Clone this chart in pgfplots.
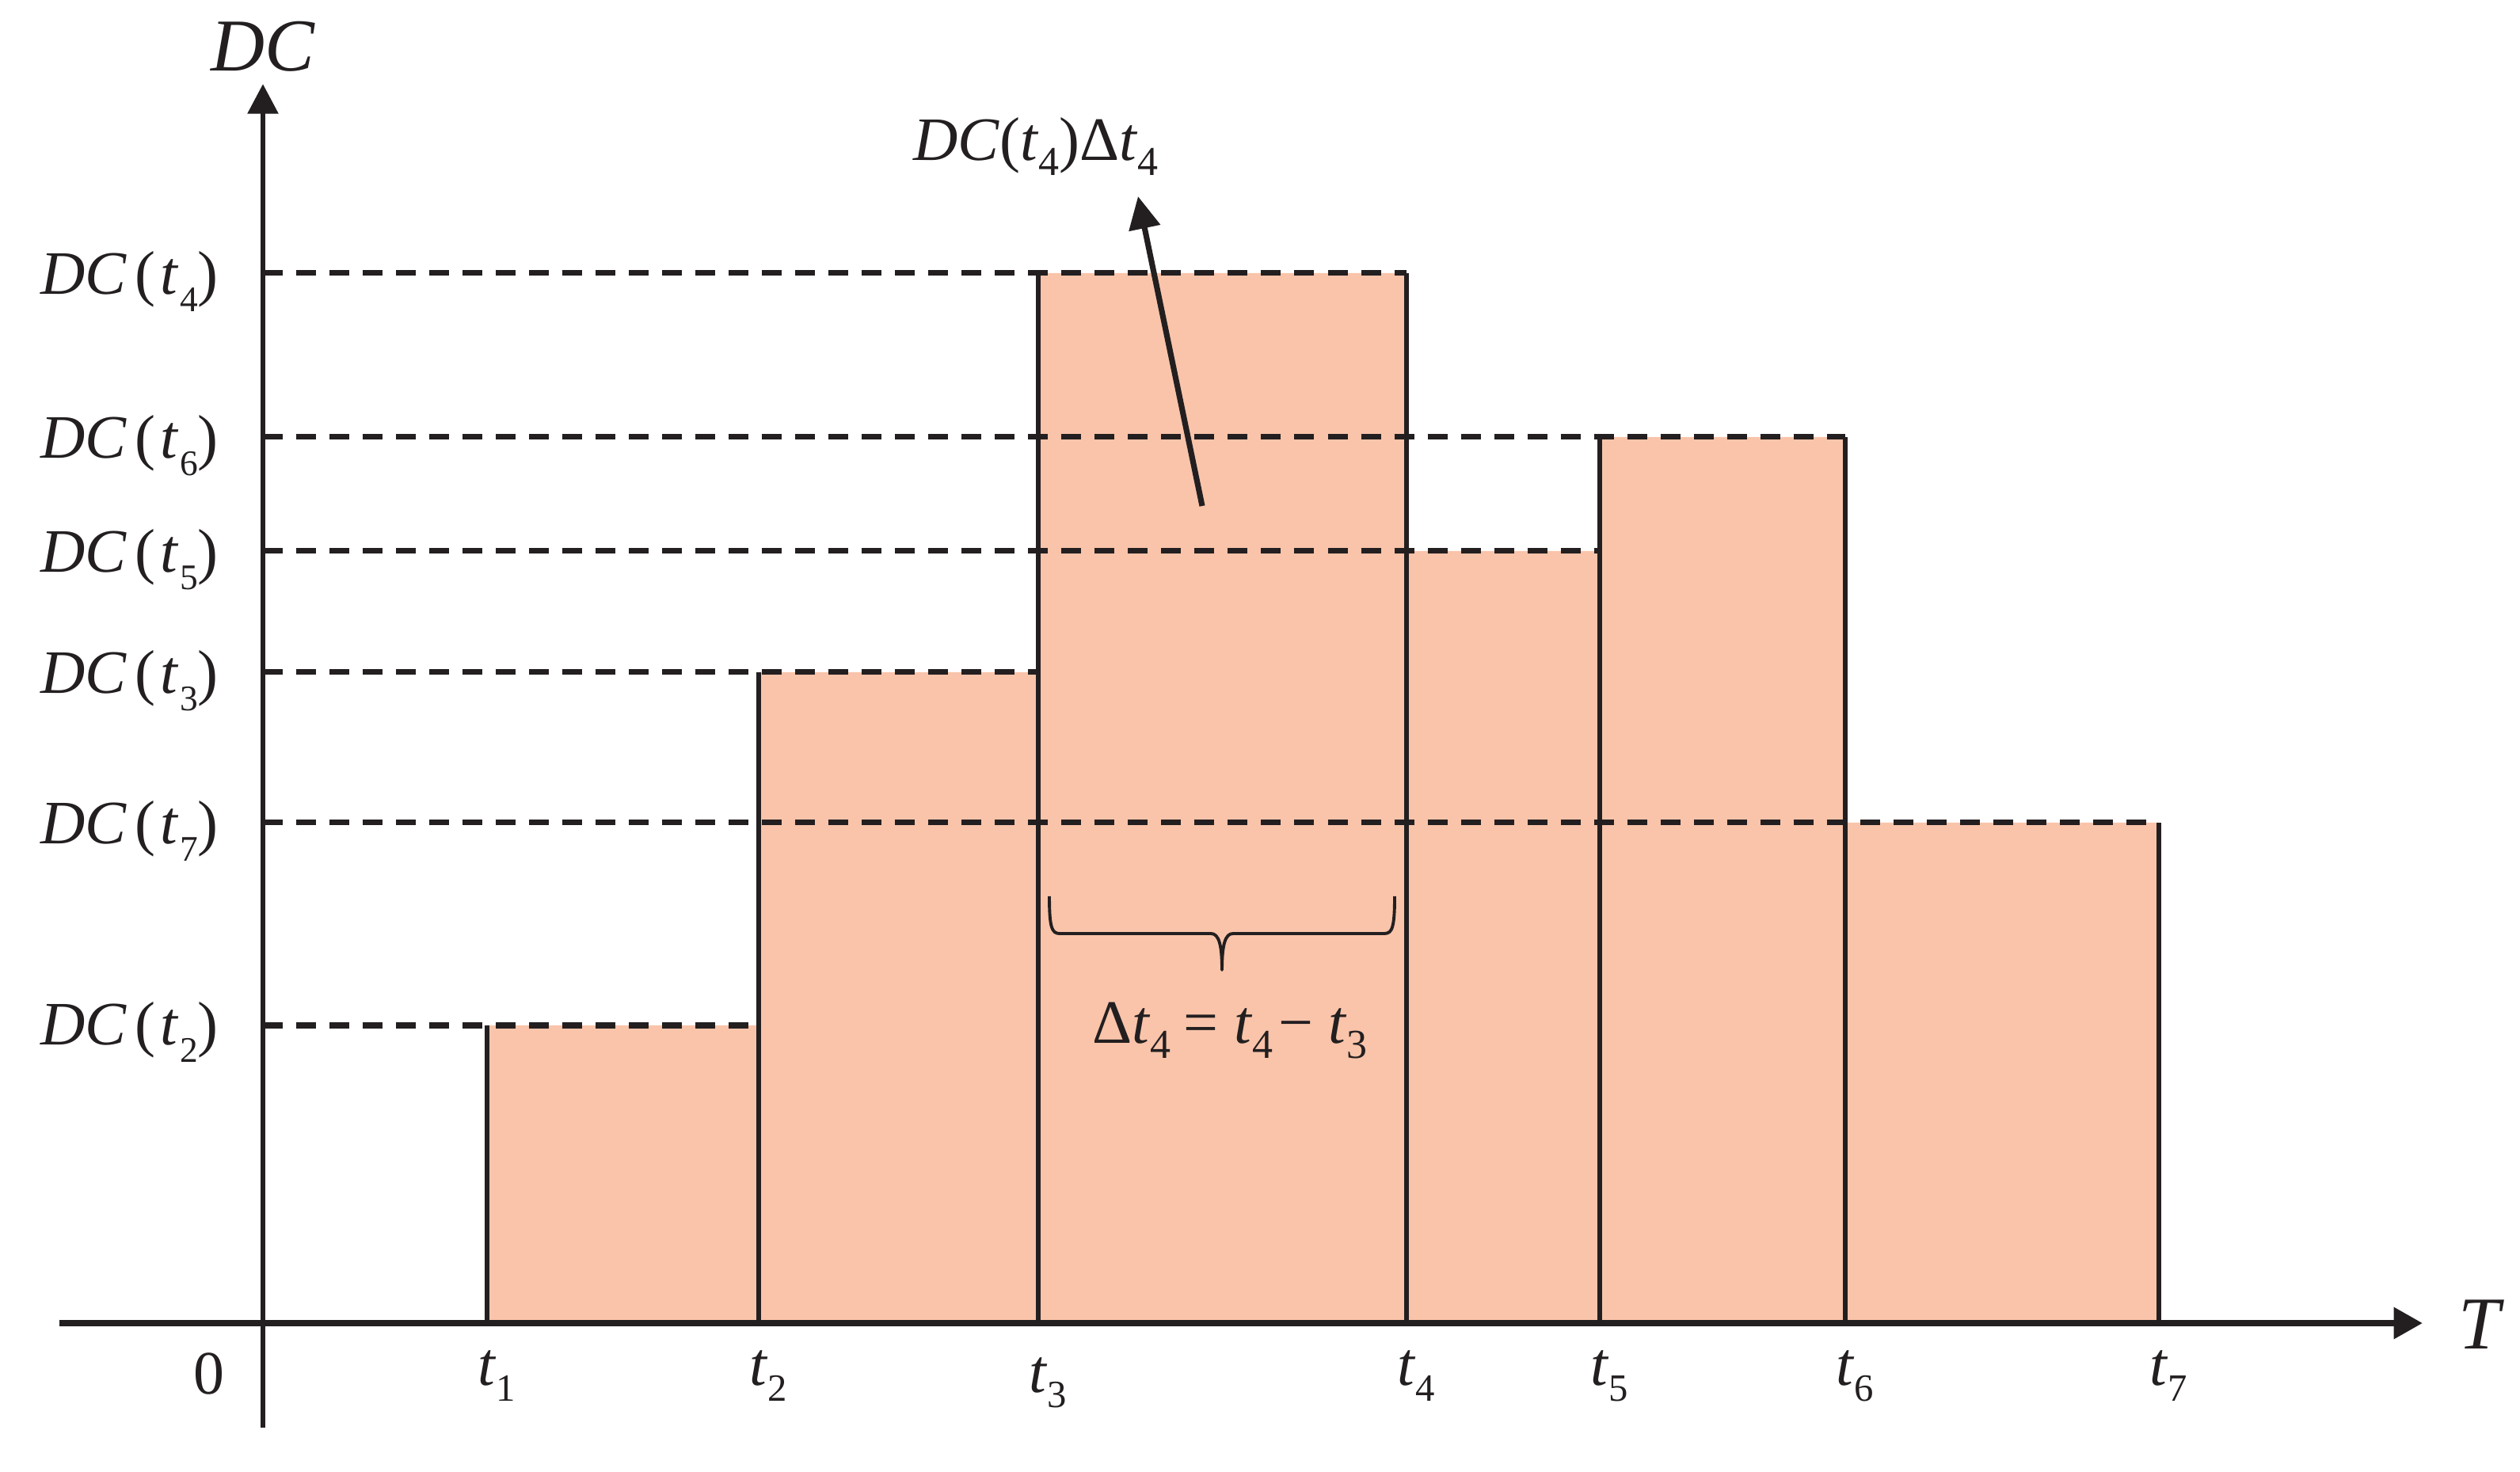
\documentclass[border=0pt]{standalone}
\usepackage{fontspec}
\setmainfont{Liberation Serif}
\usepackage{pgfplots}
\pgfplotsset{compat=1.18}
\usetikzlibrary{arrows.meta}
\definecolor{barfill}{RGB}{249,196,170}
\definecolor{ink}{RGB}{35,31,32}
\tikzset{lab/.style={font=\fontsize{12}{14}\selectfont, inner sep=0pt, text=ink}}
\newcommand{\sy}[1]{\raisebox{-3.3pt}{\fontsize{7}{7}\selectfont #1}}
\newcommand{\sx}[1]{\raisebox{-3pt}{\fontsize{7.5}{8}\selectfont #1}}
\newcommand{\sa}[1]{\raisebox{-2.8pt}{\fontsize{8}{8}\selectfont #1}}
\newcommand{\ylab}[1]{\textit{DC}\kern1.5pt(\kern1pt\textit{t}\kern0.2pt\sy{#1})}
\begin{document}
\begin{tikzpicture}
\useasboundingbox (0,0) rectangle (490pt,286.27pt);
\begin{axis}[at={(0,0)}, anchor=south west, scale only axis,
  width=490pt, height=286.27pt,
  xmin=-332, xmax=2850, ymin=-188, ymax=1671,
  hide axis, clip=false]
% filled bars
\addplot[fill=barfill, draw=none] coordinates {(283,0)(283,376)(626,376)(626,822)(979,822)(979,1326)(1444,1326)(1444,975)(1688,975)(1688,1119)(1998,1119)(1998,632)(2394,632)(2394,0)} \closedcycle;
% dashed level lines
\addplot[ink, line width=1.08pt, dash pattern=on 3.85pt off 2.62pt] coordinates {(0,1326)(1444,1326)};
\addplot[ink, line width=1.08pt, dash pattern=on 3.85pt off 2.62pt] coordinates {(0,1119)(1998,1119)};
\addplot[ink, line width=1.08pt, dash pattern=on 3.85pt off 2.62pt] coordinates {(0,975)(1688,975)};
\addplot[ink, line width=1.08pt, dash pattern=on 3.85pt off 2.62pt] coordinates {(0,822)(979,822)};
\addplot[ink, line width=1.08pt, dash pattern=on 3.85pt off 2.62pt] coordinates {(0,632)(2394,632)};
\addplot[ink, line width=1.08pt, dash pattern=on 3.85pt off 2.62pt] coordinates {(0,376)(626,376)};
% vertical bar edges
\addplot[ink, line width=1.05pt] coordinates {(283,0)(283,376)};
\addplot[ink, line width=1.05pt] coordinates {(626,0)(626,822)};
\addplot[ink, line width=1.05pt] coordinates {(979,0)(979,1326)};
\addplot[ink, line width=1.05pt] coordinates {(1444,0)(1444,1326)};
\addplot[ink, line width=1.05pt] coordinates {(1688,0)(1688,1119)};
\addplot[ink, line width=1.05pt] coordinates {(1998,0)(1998,1119)};
\addplot[ink, line width=1.05pt] coordinates {(2394,0)(2394,632)};
% axes
\addplot[ink, line width=1.25pt, -{Triangle[length=5.6pt,width=5.9pt]}] coordinates {(-257,0)(2727,0)};
\addplot[ink, line width=1.05pt, -{Triangle[length=5.8pt,width=5.8pt]}] coordinates {(0,-132)(0,1565)};
% annotation arrow
\addplot[ink, line width=1.1pt, -{Triangle[length=6.3pt,width=6pt]}] coordinates {(1186,1032)(1105,1423)};
% brace
\draw[ink, line width=0.6pt, line join=round]
  (axis cs:993,539) .. controls (axis cs:993,500) and (axis cs:996,492) .. (axis cs:1006,492)
  -- (axis cs:1197,492) .. controls (axis cs:1207,492) and (axis cs:1211,478) .. (axis cs:1211,446)
  .. controls (axis cs:1211,478) and (axis cs:1215,492) .. (axis cs:1225,492)
  -- (axis cs:1416,492) .. controls (axis cs:1426,492) and (axis cs:1429,500) .. (axis cs:1429,539);
% y labels
\node[lab, anchor=base east] at (axis cs:-55,1299) {\ylab{4}};
\node[lab, anchor=base east] at (axis cs:-55,1092) {\ylab{6}};
\node[lab, anchor=base east] at (axis cs:-55,948) {\ylab{5}};
\node[lab, anchor=base east] at (axis cs:-55,795) {\ylab{3}};
\node[lab, anchor=base east] at (axis cs:-55,605) {\ylab{7}};
\node[lab, anchor=base east] at (axis cs:-55,351) {\ylab{2}};
% axis titles
\node[lab, font=\fontsize{14.5}{16}\selectfont, anchor=base] at (axis cs:0,1581) {\textit{DC}};
\node[lab, font=\fontsize{14.5}{16}\selectfont, anchor=base] at (axis cs:2801,-32) {\textit{T}};
% x labels
\node[lab, anchor=base] at (axis cs:-68,-89) {0};
\node[lab, anchor=base west] at (axis cs:270,-79) {\textit{t}\sx{1}};
\node[lab, anchor=base west] at (axis cs:613,-79) {\textit{t}\sx{2}};
\node[lab, anchor=base west] at (axis cs:966,-87) {\textit{t}\sx{3}};
\node[lab, anchor=base west] at (axis cs:1431,-79) {\textit{t}\sx{4}};
\node[lab, anchor=base west] at (axis cs:1675,-79) {\textit{t}\sx{5}};
\node[lab, anchor=base west] at (axis cs:1985,-79) {\textit{t}\sx{6}};
\node[lab, anchor=base west] at (axis cs:2381,-79) {\textit{t}\sx{7}};
% annotations
\node[lab, anchor=base] at (axis cs:976,1468) {\textit{DC}(\textit{t}\sa{4})Δ\textit{t}\sa{4}};
\node[lab, anchor=base] at (axis cs:1221,353) {Δ\textit{t}\sa{4}\kern2.5pt=\kern3pt\textit{t}\sa{4}\kern1pt−\kern3pt\textit{t}\sa{3}};
\end{axis}
\end{tikzpicture}
\end{document}
